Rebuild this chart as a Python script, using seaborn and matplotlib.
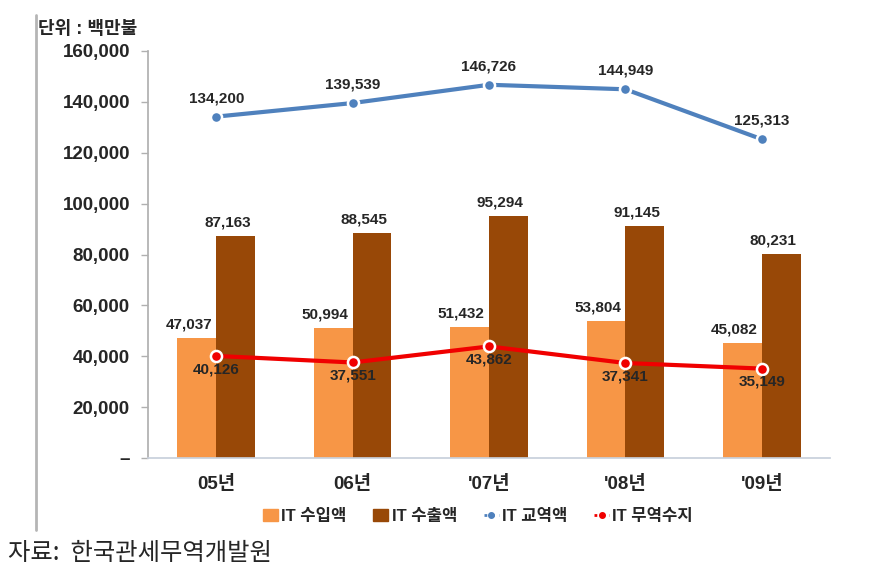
import matplotlib
matplotlib.use("Agg")
import matplotlib.pyplot as plt
import seaborn as sns
import pandas as pd
from matplotlib.lines import Line2D
from matplotlib.patches import Patch
from matplotlib.ticker import FuncFormatter

years = ["05년", "06년", "'07년", "'08년", "'09년"]
imports = [47037, 50994, 51432, 53804, 45082]
exports = [87163, 88545, 95294, 91145, 80231]
trade_total = [134200, 139539, 146726, 144949, 125313]
trade_balance = [40126, 37551, 43862, 37341, 35149]

series_names = ["IT 수입액", "IT 수출액", "IT 교역액", "IT 무역수지"]
ORANGE = "#F79646"
BROWN = "#984807"
BLUE = "#4F81BD"
RED = "#F00000"

sns.set_theme(style="white")
plt.rcParams["font.family"] = ["Liberation Sans", "Noto Sans CJK KR"]
plt.rcParams["font.weight"] = "bold"

bars_df = pd.DataFrame({
    "year": years * 2,
    "value": imports + exports,
    "series": [series_names[0]] * 5 + [series_names[1]] * 5,
})

fig = plt.figure(figsize=(8.83, 5.81), dpi=100)
ax = fig.add_axes([148 / 883, 1 - 458 / 581, (830 - 148) / 883, (458 - 51) / 581])

sns.barplot(
    data=bars_df, x="year", y="value", hue="series",
    palette=[ORANGE, BROWN], width=0.57, gap=0, saturation=1,
    legend=False, ax=ax, edgecolor="none",
)

# data labels on bars
for container, vals in zip(ax.containers, [imports, exports]):
    for bar, v in zip(container, vals):
        ax.text(bar.get_x() + bar.get_width() / 2 - 0.06, v + 2500, f"{v:,}",
                ha="center", va="bottom", fontsize=11, fontweight="bold")

xs = list(range(len(years)))
ax.plot(xs, trade_total, color=BLUE, lw=3, marker="o", ms=8,
        mfc=BLUE, mec="white", mew=1.8, zorder=5)
ax.plot(xs, trade_balance, color=RED, lw=3, marker="o", ms=8,
        mfc=RED, mec="white", mew=1.8, zorder=5)

for x, v in zip(xs, trade_total):
    ax.text(x, v + 4500, f"{v:,}", ha="center", va="bottom",
            fontsize=11, fontweight="bold", zorder=6)
for x, v in zip(xs, trade_balance):
    ax.text(x, v - 2500, f"{v:,}", ha="center", va="top",
            fontsize=11, fontweight="bold", zorder=6)

ax.set_xlim(-0.5, len(years) - 0.5)
ax.set_ylim(0, 160000)
ax.set_yticks(range(0, 160001, 20000))
ax.yaxis.set_major_formatter(FuncFormatter(lambda v, p: "–" if v == 0 else f"{int(v):,}"))
ax.set_xlabel("")
ax.set_ylabel("")
ax.set_xticks(xs)
ax.set_xticks([i - 0.5 for i in range(len(years) + 1)], minor=True)
ax.tick_params(axis="x", which="major", length=0, pad=12, labelsize=13.5)
ax.tick_params(axis="x", which="minor", length=5, color="#C8C8C8", width=1, direction="out")
ax.tick_params(axis="y", length=5, color="#B0B0B0", width=1, direction="out",
               labelsize=13.5, pad=8, left=True)
for lbl in ax.get_xticklabels() + ax.get_yticklabels():
    lbl.set_fontweight("bold")

for side in ["top", "right"]:
    ax.spines[side].set_visible(False)
ax.spines["left"].set_color("#B0B0B0")
ax.spines["bottom"].set_color("#C8D0DC")

handles = [
    Patch(color=ORANGE),
    Patch(color=BROWN),
    Line2D([], [], color=BLUE, ls=":", lw=2, marker="o", ms=4),
    Line2D([], [], color=RED, ls=":", lw=2, marker="o", ms=4),
]
fig.legend(handles, series_names, loc="center", bbox_to_anchor=(478 / 883, 1 - 516 / 581),
           ncol=4, frameon=False, handlelength=0.9, handletextpad=0.2,
           columnspacing=1.6, prop={"weight": "bold", "size": 12})

fig.add_artist(Line2D([36 / 883, 36 / 883], [1 - 15 / 581, 1 - 530 / 581],
                      color="#B5B5B5", lw=2))
fig.text(38 / 883, 1 - 30 / 581, "단위 : 백만불", ha="left", va="center",
         fontsize=13, fontweight="bold")
fig.text(8 / 883, 1 - 553 / 581, "자료:  한국관세무역개발원", ha="left", va="center",
         fontsize=17.5, fontweight="normal", family=["Noto Sans CJK KR"])

fig.savefig("out.png", dpi=100)
